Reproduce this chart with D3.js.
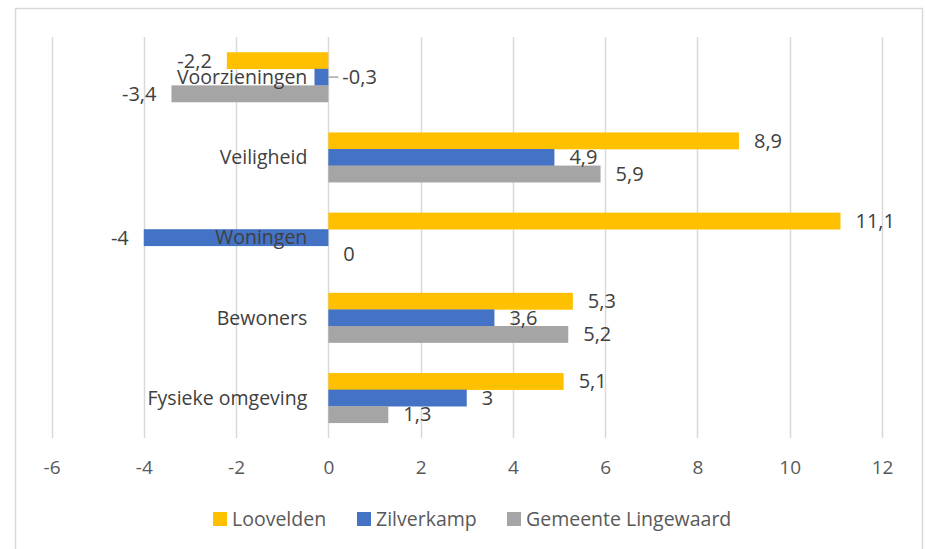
<!DOCTYPE html>
<html><head><meta charset="utf-8">
<script src="https://cdn.jsdelivr.net/npm/d3@7"></script>
<style>
body{margin:0;background:#fff;}
svg{display:block;font-family:"Open Sans",Lato,sans-serif;}
</style></head><body>
<svg id="c" width="926" height="549"></svg>
<script>
const categories = ["Voorzieningen","Veiligheid","Woningen","Bewoners","Fysieke omgeving"];
const seriesNames = ["Loovelden","Zilverkamp","Gemeente Lingewaard"];
const seriesColors = ["#FFC000","#4472C4","#A5A5A5"];
const loovelden = [-2.2, 8.9, 11.1, 5.3, 5.1];
const zilverkamp = [-0.3, 4.9, -4, 3.6, 3];
const lingewaard = [-3.4, 5.9, 0, 5.2, 1.3];
const tickValues = [-6,-4,-2,0,2,4,6,8,10,12];
const values = [loovelden, zilverkamp, lingewaard];

const svg = d3.select("#c");
svg.append("rect").attr("x",15.5).attr("y",8.5).attr("width",907).attr("height",560)
  .attr("fill","#fff").attr("stroke","#D9D9D9").attr("stroke-width",1.5);

const x = d3.scaleLinear().domain([-6,12]).range([51.5,882]);
const y = d3.scaleBand().domain(categories).range([37,438]).paddingInner(0.38).paddingOuter(0.19);
const ys = d3.scaleBand().domain([0,1,2]).range([0,y.bandwidth()]);

svg.append("g").selectAll("line").data(tickValues).join("line")
  .attr("x1",d=>Math.round(x(d))+0.5).attr("x2",d=>Math.round(x(d))+0.5)
  .attr("y1",37).attr("y2",438).attr("stroke","#D9D9D9").attr("stroke-width",1.5);

const xa = svg.append("g").attr("transform","translate(0,438)")
  .call(d3.axisBottom(x).tickValues(tickValues).tickSize(0).tickPadding(23).tickFormat(d=>d<0?"-"+Math.abs(d):d));
xa.select(".domain").remove();
xa.selectAll("text").attr("fill","#595959").style("font-size","19px").style("font-family","Open Sans");

const ya = svg.append("g").attr("transform",`translate(${x(0)},0)`)
  .call(d3.axisLeft(y).tickSize(0).tickPadding(21));
ya.select(".domain").remove();
ya.selectAll("text").attr("fill","#404040").style("font-size","19.5px").style("font-family","Open Sans")
  .attr("dy","0.35em");

const gBars = svg.append("g");
values.forEach((arr,si)=>{
  gBars.selectAll(null).data(arr).join("rect")
    .attr("x",d=>x(Math.min(0,d)))
    .attr("width",d=>Math.abs(x(d)-x(0)))
    .attr("y",(d,i)=>y(categories[i])+ys(si))
    .attr("height",ys.bandwidth()+0.3)
    .attr("fill",seriesColors[si]);
});
ya.raise();

const fmt = v => String(v).replace(".",",");
const gL = svg.append("g").style("font-size","20px").style("font-family","Open Sans").attr("fill","#404040");
values.forEach((arr,si)=>{
  arr.forEach((v,i)=>{
    const cy = y(categories[i])+ys(si)+ys.bandwidth()/2;
    let tx, anchor;
    if (v<0){ tx = x(v)-15; anchor="end"; } else { tx = x(v)+15; anchor="start"; }
    if (v===-0.3){ tx = x(0)+14; anchor="start";
      svg.append("line").attr("x1",x(0)).attr("x2",x(0)+10).attr("y1",cy).attr("y2",cy).attr("stroke","#A6A6A6").attr("stroke-width",1.5);
    }
    gL.append("text").attr("x",tx).attr("y",cy).attr("dy","0.35em").attr("text-anchor",anchor).text(fmt(v));
  });
});

const legX = [213,357,507];
const lg = svg.append("g").attr("transform","translate(0,518)");
seriesNames.forEach((n,i)=>{
  lg.append("rect").attr("x",legX[i]).attr("y",-6).attr("width",14).attr("height",14).attr("fill",seriesColors[i]);
  lg.append("text").attr("x",legX[i]+19).attr("y",1).attr("dy","0.35em").attr("fill","#595959")
    .style("font-size","19.5px").style("font-family","Open Sans").text(n);
});
</script>
</body></html>
